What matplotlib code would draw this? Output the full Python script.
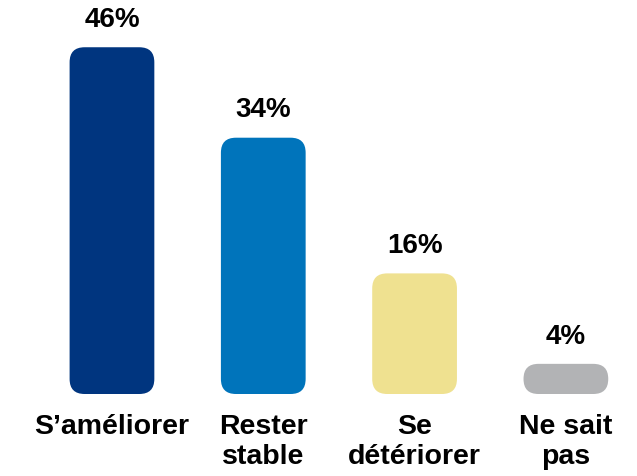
import matplotlib.pyplot as plt
from matplotlib.patches import FancyBboxPatch

# Données
categories = ["S\u2019améliorer", "Rester\nstable", "Se\ndétériorer", "Ne sait\npas"]
valeurs = [46, 34, 16, 4]
couleurs = ["#00357f", "#0074bb", "#efe190", "#b2b3b5"]

plt.rcParams['font.family'] = ['Liberation Sans Narrow', 'Liberation Sans', 'DejaVu Sans']

fig = plt.figure(figsize=(6.37, 4.77), dpi=100)
ax = fig.add_axes([0, 82 / 477, 1, 395 / 477])
ax.set_xlim(-0.74, 3.47)
ax.set_ylim(0, 52.4)
ax.axis('off')

largeur = 0.56
rayon_px = 15

# conversion pixels -> unités de données pour arrondir les coins
fig.canvas.draw()
x0, y0 = ax.transData.transform((0, 0))
x1, y1 = ax.transData.transform((1, 1))
px_x = x1 - x0
px_y = y1 - y0
aspect = px_x / px_y

for i, (v, c) in enumerate(zip(valeurs, couleurs)):
    r = min(rayon_px, v * px_y / 2) / px_x
    barre = FancyBboxPatch((i - largeur / 2, 0), largeur, v,
                           boxstyle=f"round,pad=0,rounding_size={r}",
                           mutation_aspect=aspect, fc=c, ec='none')
    ax.add_patch(barre)
    ax.annotate(f"{v}%", (i, v), xytext=(0, 11), textcoords='offset points',
                ha='center', va='bottom', fontsize=20, fontweight='bold')
    ax.annotate(categories[i], (i, 0), xytext=(0, -14), textcoords='offset points',
                ha='center', va='top', fontsize=20.5, fontweight='bold',
                linespacing=1.2, annotation_clip=False)

fig.savefig('out.png', dpi=100)
